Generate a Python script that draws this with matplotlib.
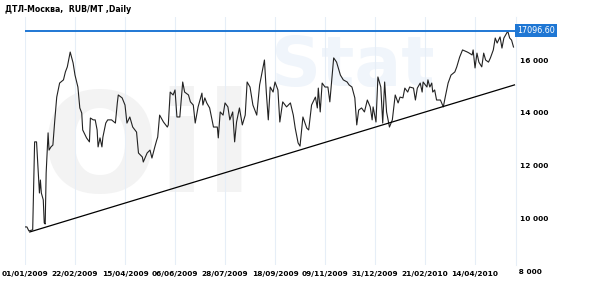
import numpy as np
import matplotlib
matplotlib.use('Agg')
from matplotlib import pyplot as plt

# days since 01/01/2009 and price, RUB/MT
dias = [0, 2, 4, 8, 10, 12, 15, 16, 17, 19, 20, 21, 22, 23, 24, 25, 27, 29, 31, 33,
        36, 40, 42, 44, 47, 50, 52, 55, 57, 59, 60, 64, 67, 68, 71, 73, 75, 76, 78, 80,
        81, 84, 86, 90, 94, 96, 97, 101, 104, 106, 109, 112, 116, 118, 122, 123, 127, 130, 132, 135,
        137, 138, 140, 144, 148, 149, 151, 154, 156, 158, 161, 164, 166, 170, 172, 175, 177, 180, 184, 185,
        187, 189, 192, 196, 200, 201, 203, 206, 208, 211, 213, 216, 218, 220, 223, 226, 229, 231, 234, 237,
        241, 244, 249, 251, 253, 255, 258, 260, 263, 265, 268, 272, 276, 279, 281, 284, 286, 288, 289, 293,
        295, 298, 302, 304, 305, 307, 309, 312, 315, 317, 321, 324, 328, 331, 335, 337, 340, 343, 345, 347,
        350, 353, 356, 359, 361, 362, 365, 367, 370, 372, 374, 376, 379, 382, 385, 388, 390, 393, 395, 398,
        400, 404, 406, 408, 411, 413, 414, 418, 419, 421, 423, 424, 426, 428, 432, 435, 437, 440, 443, 447,
        449, 452, 455, 460, 462, 465, 466, 468, 470, 472, 475, 477, 479, 482, 484, 487, 489, 491, 494, 496,
        498, 501, 502, 504, 506, 508]
precos = [9700, 9700, 9550, 9590, 12910, 12910, 10980, 11470, 10980, 10720, 9850, 9810, 11740, 12490, 13250, 12600, 12720, 12790, 13740, 14600,
          15130, 15250, 15550, 15740, 16300, 15890, 15430, 14980, 14190, 14000, 13360, 13060, 12910, 13810, 13740, 13740, 13360, 12720, 13060, 12720,
          13090, 13620, 13740, 13740, 13620, 14380, 14680, 14570, 14300, 13620, 13850, 13470, 13280, 12490, 12340, 12150, 12490, 12600, 12300, 12720,
          12980, 13090, 13920, 13660, 13470, 13550, 14790, 14680, 14870, 13850, 13850, 15170, 14790, 14680, 14420, 14300, 13620, 14230, 14750, 14300,
          14570, 14380, 14190, 13470, 13470, 13060, 14040, 13920, 14380, 14230, 13740, 14040, 12910, 13660, 14190, 13550, 13920, 15170, 14980, 14300,
          13920, 15060, 16000, 14750, 13740, 14980, 14790, 15170, 14870, 13660, 14420, 14230, 14380, 13920, 13430, 12870, 12750, 13470, 13850, 13430,
          13360, 14300, 14600, 14190, 14940, 14040, 15130, 14980, 14980, 14420, 16080, 15920, 15430, 15250, 15170, 15060, 14980, 14570, 13550, 14110,
          14190, 14040, 14490, 14230, 13740, 14230, 13660, 15360, 14980, 13620, 15170, 14040, 13470, 13740, 14680, 14380, 14600, 14570, 14940, 14790,
          14980, 14940, 14490, 14940, 15130, 14790, 15170, 14980, 15250, 14980, 15130, 14790, 14870, 14490, 14490, 14230, 14600, 15130, 15430, 15550,
          15740, 16110, 16380, 16300, 16260, 16190, 16380, 15700, 16260, 15920, 15740, 16260, 16000, 15920, 16080, 16380, 16830, 16640, 16870, 16450,
          16830, 17020, 17096.6, 16830, 16750, 16490]

# linha de tendencia
tend_dias = [5, 509]
tend_precos = [9510, 15060]

maximo = 17096.6

ticks_dias = [0, 52, 104, 156, 208, 260, 312, 364, 416, 468]
ticks_nomes = ['01/01/2009', '22/02/2009', '15/04/2009', '06/06/2009', '28/07/2009',
               '18/09/2009', '09/11/2009', '31/12/2009', '21/02/2010', '14/04/2010']
niveis = [10000, 12000, 14000, 16000]

fig = plt.figure(figsize=(5.9, 2.9), dpi=100)
ax = fig.add_axes([25 / 590, 25 / 290, 491 / 590, 248 / 290])

# marca d'agua
ax.text(0.03, 0.45, 'Oil', transform=ax.transAxes, fontsize=100, color='#f3f3f3',
        weight='bold', ha='left', va='center', zorder=0)
ax.text(0.50, 0.80, 'Stat', transform=ax.transAxes, fontsize=50, color='#f0f5fb',
        weight='bold', ha='left', va='center', zorder=0)

ax.plot(dias, precos, color='#222222', linewidth=0.8, zorder=3)
ax.plot(tend_dias, tend_precos, color='black', linewidth=0.9, zorder=3)
ax.axhline(maximo, color='#1f77d4', linewidth=1.4, zorder=4)

ax.set_xlim(0, 510.6)
ax.set_ylim(8263, 17623)

ax.set_xticks(ticks_dias)
ax.set_xticklabels(ticks_nomes)
ax.set_yticks(niveis)
ax.set_yticklabels([f'{v:,}'.replace(',', ' ') for v in niveis])
ax.yaxis.tick_right()
ax.tick_params(axis='both', length=0, labelsize=5.3, pad=3)
ax.tick_params(axis='x', pad=4)
for t in ax.get_xticklabels() + ax.get_yticklabels():
    t.set_fontweight('bold')

ax.grid(True, axis='x', color='#e6eef7', linewidth=0.8)
for lado in ['top', 'left', 'bottom']:
    ax.spines[lado].set_visible(False)
ax.spines['right'].set_color('#e6eef7')

# rotulo 8 000 abaixo da area
ax.text(1.0, 8000, ' 8 000', transform=ax.get_yaxis_transform(), fontsize=5.3,
        weight='bold', ha='left', va='center', clip_on=False)

# caixa do valor maximo
ax.text(1.003, maximo, '17096.60', transform=ax.get_yaxis_transform(), fontsize=5.8,
        color='white', ha='left', va='center', clip_on=False,
        bbox=dict(boxstyle='square,pad=0.25', facecolor='#1f77d4', edgecolor='none'))

fig.text(5 / 590, 1 - 9 / 290, 'ДТЛ-Москва,  RUB/MT ,Daily', fontsize=5.6,
         weight='bold', ha='left', va='center')

plt.savefig('out.png', dpi=100)
